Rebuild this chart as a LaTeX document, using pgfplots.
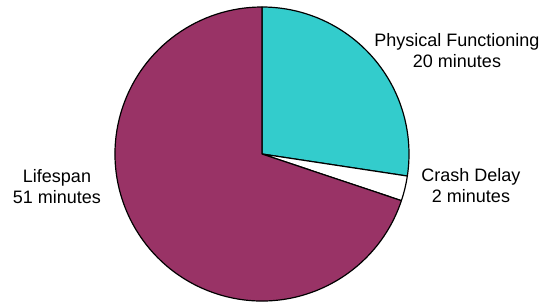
\documentclass[border=0pt]{standalone}
\usepackage{fontspec}
\setmainfont{Liberation Sans}
\usepackage{pgfplots}
\usepackage{pgfplotstable}
\pgfplotsset{compat=1.18}
\definecolor{cteal}{HTML}{33CCCC}
\definecolor{cmaroon}{HTML}{993366}
\pgfplotstableread{
name value
Physical 20
Crash 2
Lifespan 51
}\piedata
\pgfplotstablegetelem{0}{value}\of\piedata \let\va\pgfplotsretval
\pgfplotstablegetelem{1}{value}\of\piedata \let\vb\pgfplotsretval
\pgfplotstablegetelem{2}{value}\of\piedata \let\vc\pgfplotsretval
\pgfmathsetmacro{\tot}{\va+\vb+\vc}
\pgfmathsetmacro{\aA}{90}
\pgfmathsetmacro{\aB}{90-\va/\tot*360}
\pgfmathsetmacro{\aC}{\aB-\vb/\tot*360}
\pgfmathsetmacro{\aD}{\aC-\vc/\tot*360}
\begin{document}
\begin{tikzpicture}
\begin{axis}[
  scale only axis, width=546bp, height=302bp,
  xmin=0, xmax=546, ymin=0, ymax=302,
  hide axis, clip=false,
]
\coordinate (bl) at (axis cs:0,0);
\coordinate (tr) at (axis cs:546,302);
\filldraw[fill=cteal, draw=black, line width=1.2pt, line join=round] (axis cs:262,148) -- ++(\aA:147bp) arc[start angle=\aA, end angle=\aB, radius=147bp] -- cycle;
\filldraw[fill=white, draw=black, line width=1.2pt, line join=round] (axis cs:262,148) -- ++(\aB:147bp) arc[start angle=\aB, end angle=\aC, radius=147bp] -- cycle;
\filldraw[fill=cmaroon, draw=black, line width=1.2pt, line join=round] (axis cs:262,148) -- ++(\aC:147bp) arc[start angle=\aC, end angle=\aD, radius=147bp] -- cycle;
\node[align=center, font=\fontsize{18bp}{21bp}\selectfont] at (axis cs:457,251) {Physical Functioning\\20 minutes};
\node[align=center, font=\fontsize{18bp}{21bp}\selectfont] at (axis cs:471,116) {Crash Delay\\2 minutes};
\node[align=center, font=\fontsize{18bp}{21bp}\selectfont] at (axis cs:57,115) {Lifespan\\51 minutes};
\end{axis}
\pgfresetboundingbox
\path[use as bounding box] (bl) rectangle (tr);
\end{tikzpicture}
\end{document}
